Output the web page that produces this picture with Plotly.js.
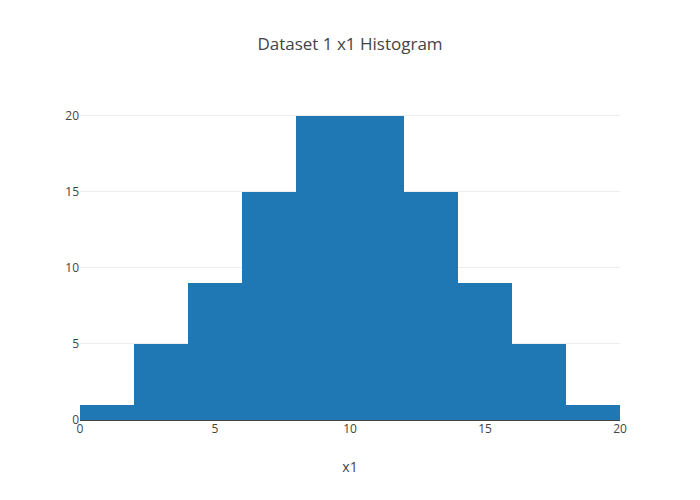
<!DOCTYPE html>
<html>
<head>
<meta charset="utf-8">
<script src="https://cdn.plot.ly/plotly-3.0.1.min.js"></script>
<style>html,body{margin:0;padding:0;}#chart{width:700px;height:500px;}</style>
</head>
<body>
<div id="chart"></div>
<script>
const binCenters = [1, 3, 5, 7, 9, 11, 13, 15, 17, 19];
const binWidths = [2, 2, 2, 2, 2, 2, 2, 2, 2, 2];
const counts = [1, 5, 9, 15, 20, 20, 15, 9, 5, 1];
const xTicks = [0, 5, 10, 15, 20];
const yTicks = [0, 5, 10, 15, 20];

const trace = {
  type: 'bar',
  x: binCenters,
  y: counts,
  width: binWidths,
  marker: {color: '#1f77b4'},
  hoverinfo: 'x+y'
};

const layout = {
  width: 700,
  height: 500,
  title: {text: 'Dataset 1 x1 Histogram'},
  font: {family: '"Open Sans", verdana, arial, sans-serif', color: '#444'},
  bargap: 0,
  showlegend: false,
  xaxis: {
    title: {text: 'x1'},
    range: [0, 20],
    tickvals: xTicks,
    showgrid: false,
    zeroline: false,
    ticks: ''
  },
  yaxis: {
    range: [0, 21.05],
    tickvals: yTicks,
    gridcolor: '#eee',
    zeroline: true,
    zerolinecolor: '#444',
    zerolinewidth: 1
  },
  margin: {l: 80, r: 80, t: 100, b: 80},
  paper_bgcolor: '#fff',
  plot_bgcolor: '#fff'
};

Plotly.newPlot('chart', [trace], layout, {displayModeBar: false, staticPlot: true});
</script>
</body>
</html>
